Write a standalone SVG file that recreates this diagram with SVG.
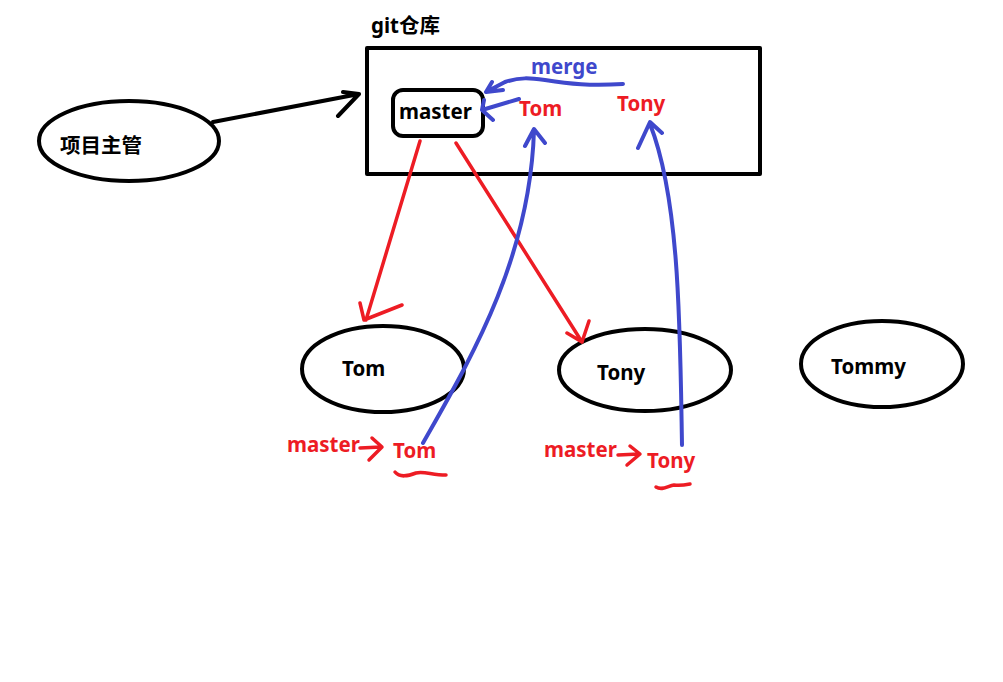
<svg xmlns="http://www.w3.org/2000/svg" width="1003" height="682" viewBox="0 0 1003 682">
<style>
.t{font-family:"Noto Sans","Noto Sans CJK SC",sans-serif;font-weight:bold;font-size:20.5px}
.k{fill:#000}
.r{fill:#ed1c24}
.b{fill:#3f48cc}
.sk{fill:none;stroke:#000;stroke-width:4;stroke-linecap:round;stroke-linejoin:round}
.sr{fill:none;stroke:#ed1c24;stroke-width:3.5;stroke-linecap:round;stroke-linejoin:round}
.sb{fill:none;stroke:#3f48cc;stroke-width:4;stroke-linecap:round;stroke-linejoin:round}
</style>
<rect width="1003" height="682" fill="#fff"/>
<g id="repo">
<rect x="367" y="48" width="393" height="126" class="sk"/>
<text x="371" y="33" class="t k">git仓库</text>
</g>
<g id="master">
<rect x="393" y="90" width="90" height="46" rx="10" class="sk"/>
<text x="399" y="119" class="t k">master</text>
</g>
<g id="repo-labels">
<text x="531" y="74" class="t b">merge</text>
<text x="519" y="116" class="t r">Tom</text>
<text x="617" y="111" class="t r">Tony</text>
</g>
<g id="manager">
<ellipse cx="129" cy="141" rx="90" ry="40" class="sk"/>
<text x="60" y="153" class="t k">项目主管</text>
</g>
<g id="tom">
<ellipse cx="383" cy="369" rx="81" ry="43" class="sk"/>
<text x="342" y="376" class="t k">Tom</text>
</g>
<g id="tony">
<ellipse cx="645" cy="370" rx="86" ry="41" class="sk"/>
<text x="597" y="380" class="t k">Tony</text>
</g>
<g id="tommy">
<ellipse cx="882" cy="364" rx="81" ry="43" class="sk"/>
<text x="831" y="374" class="t k">Tommy</text>
</g>
<g id="local-labels">
<text x="287" y="452" class="t r">master</text>
<text x="393" y="458" class="t r">Tom</text>
<text x="544" y="457" class="t r">master</text>
<text x="647" y="468" class="t r">Tony</text>
</g>
<g id="connectors">
<path d="M213,122 L359,94 M343,92 L359,94 L338,116" class="sk"/>
<path d="M420,141 L366,320 M360,303 L364,320 L402,305" class="sr"/>
<path d="M456,143 L582,342 M567,333 L582,342 L589,321" class="sr"/>
<path d="M623,84 C590,86 570,84 545,80 C530,78 520,77 505,82 L486,92 M492,82 L486,92 L503,90" class="sb"/>
<path d="M519,99 L482,110 M484,100 L482,110 L493,120" class="sb"/>
<path d="M423,443 C470,360 530,260 534,130 M525,146 L534,129 L545,143" class="sb"/>
<path d="M682,445 C680,330 680,200 650,124 M638,148 L650,122 L662,133" class="sb"/>
<path d="M360,448 L381,447 M372,438 L382,447 L369,460" class="sr"/>
<path d="M618,455 L639,454 M630,446 L640,454 L627,465" class="sr"/>
<path d="M395,472 C400,478 408,476 416,473 C424,471 432,475 446,475" class="sr"/>
<path d="M656,487 C662,491 668,486 674,485 C680,486 685,485 690,484" class="sr"/>
</g>
</svg>
